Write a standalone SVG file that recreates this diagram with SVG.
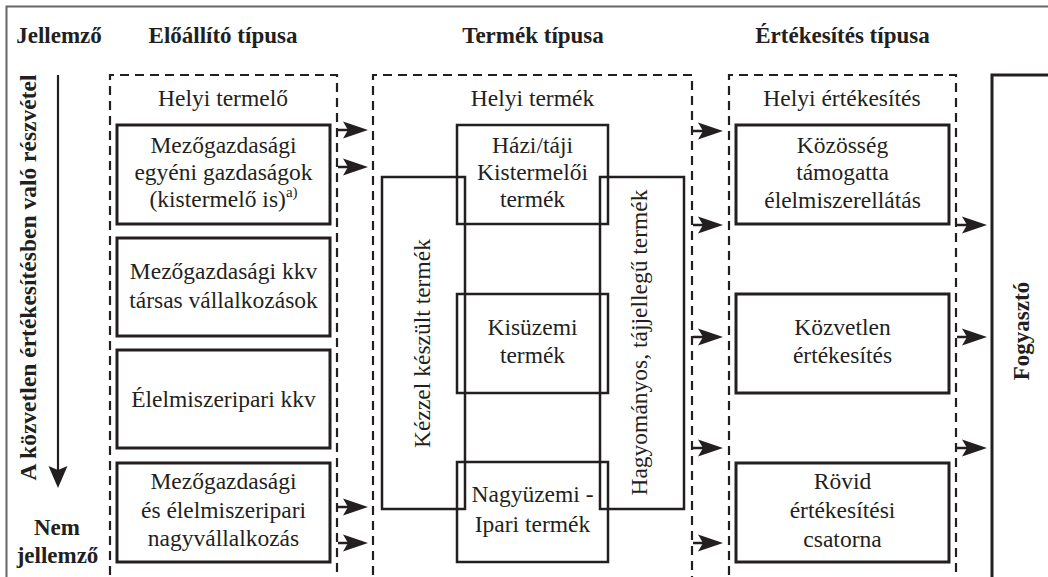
<svg xmlns="http://www.w3.org/2000/svg" width="1048" height="577" viewBox="0 0 1048 577">
<defs>
<style>
.t{font-family:"Liberation Serif","Times New Roman",serif;font-size:23.5px;fill:#231f20;text-anchor:middle}
.b{font-weight:bold;font-size:23px}
.box{fill:none;stroke:#231f20;stroke-width:3}
.mbox{fill:none;stroke:#231f20;stroke-width:2.5}
.dash{fill:none;stroke:#231f20;stroke-width:2.2;stroke-dasharray:9 6}
.arr{stroke:#231f20;stroke-width:2.5;fill:none;marker-end:url(#ah)}
</style>
<marker id="ah" markerUnits="userSpaceOnUse" markerWidth="25" markerHeight="18" viewBox="0 0 25 18" refX="19" refY="9" orient="auto">
<path d="M0,0.5 L25,9 L0,17.5 L5,9 Z" fill="#231f20"/>
</marker>
<marker id="ahv" markerUnits="userSpaceOnUse" markerWidth="22" markerHeight="20" viewBox="0 0 22 20" refX="16" refY="10" orient="auto">
<path d="M0,0.5 L22,10 L0,19.5 L4,10 Z" fill="#231f20"/>
</marker>
</defs>
<rect width="1048" height="577" fill="#fff"/>
<path d="M6.5,600 L6.5,6.5 L1060,6.5" fill="none" stroke="#666" stroke-width="2"/>

<g id="headers">
<text class="t b" x="59" y="43">Jellemző</text>
<text class="t b" x="223" y="43">Előállító típusa</text>
<text class="t b" x="533" y="43">Termék típusa</text>
<text class="t b" x="842.5" y="43">Értékesítés típusa</text>
</g>

<g id="axis">
<text class="t b" transform="translate(36,277.5) rotate(-90)" x="0" y="0" style="font-size:23.5px">A közvetlen értékesítésben való részvétel</text>
<line x1="58" y1="75" x2="58" y2="482" stroke="#231f20" stroke-width="2.2" marker-end="url(#ahv)"/>
<text class="t b" x="57" y="535">Nem</text>
<text class="t b" x="57.5" y="563">jellemző</text>
</g>

<g id="helyi-termelo">
<path class="dash" d="M110,590 L110,75 L337,75 L337,590"/>
<text class="t" x="223" y="106">Helyi termelő</text>
</g>
<g id="egyeni">
<rect class="box" x="117" y="125" width="213" height="99"/>
<text class="t" x="223.5" y="153">Mezőgazdasági</text>
<text class="t" x="223.5" y="180">egyéni gazdaságok</text>
<text class="t" x="223.5" y="207">(kistermelő is)<tspan font-size="15" dy="-10">a)</tspan></text>
</g>
<g id="kkv-tarsas">
<rect class="box" x="117" y="238" width="213" height="98"/>
<text class="t" x="223.5" y="279">Mezőgazdasági kkv</text>
<text class="t" x="223.5" y="308">társas vállalkozások</text>
</g>
<g id="elelmiszeripari-kkv">
<rect class="box" x="117" y="350" width="213" height="98"/>
<text class="t" x="223.5" y="407">Élelmiszeripari kkv</text>
</g>
<g id="nagyvallalkozas">
<rect class="box" x="117" y="463" width="213" height="99"/>
<text class="t" x="223.5" y="489">Mezőgazdasági</text>
<text class="t" x="223.5" y="518">és élelmiszeripari</text>
<text class="t" x="223.5" y="546">nagyvállalkozás</text>
</g>

<g id="helyi-termek">
<path class="dash" d="M373,590 L373,75 L692,75 L692,590"/>
<text class="t" x="532.5" y="106">Helyi termék</text>
</g>
<g id="kezzel">
<rect class="mbox" x="382" y="177" width="83" height="332"/>
<text class="t" transform="translate(430,343.5) rotate(-90)" x="0" y="0">Kézzel készült termék</text>
</g>
<g id="hagyomanyos">
<rect class="mbox" x="600" y="177" width="84" height="332"/>
<text class="t" transform="translate(647,342.5) rotate(-90)" x="0" y="0">Hagyományos, tájjellegű termék</text>
</g>
<g id="hazi">
<rect class="mbox" x="457" y="125" width="151" height="99"/>
<text class="t" x="532.5" y="153">Házi/táji</text>
<text class="t" x="532.5" y="180">Kistermelői</text>
<text class="t" x="532.5" y="207">termék</text>
</g>
<g id="kisuzemi">
<rect class="mbox" x="457" y="294" width="151" height="99"/>
<text class="t" x="532.5" y="335">Kisüzemi</text>
<text class="t" x="532.5" y="363">termék</text>
</g>
<g id="nagyuzemi">
<rect class="mbox" x="457" y="462" width="151" height="100"/>
<text class="t" x="532.5" y="502">Nagyüzemi -</text>
<text class="t" x="532.5" y="532">Ipari termék</text>
</g>

<g id="helyi-ertekesites">
<path class="dash" d="M729,590 L729,75 L956,75 L956,590"/>
<text class="t" x="842" y="106">Helyi értékesítés</text>
</g>
<g id="kozosseg">
<rect class="box" x="736" y="125" width="213" height="99"/>
<text class="t" x="842.5" y="153">Közösség</text>
<text class="t" x="842.5" y="180">támogatta</text>
<text class="t" x="842.5" y="208">élelmiszerellátás</text>
</g>
<g id="kozvetlen">
<rect class="box" x="736" y="294" width="213" height="99"/>
<text class="t" x="842.5" y="335">Közvetlen</text>
<text class="t" x="842.5" y="363">értékesítés</text>
</g>
<g id="rovid">
<rect class="box" x="736" y="463" width="213" height="99"/>
<text class="t" x="842.5" y="489">Rövid</text>
<text class="t" x="842.5" y="518">értékesítési</text>
<text class="t" x="842.5" y="547">csatorna</text>
</g>

<g id="fogyaszto">
<rect class="box" x="992" y="75" width="80" height="540"/>
<text class="t b" transform="translate(1029,331) rotate(-90)" x="0" y="0">Fogyasztó</text>
</g>

<g id="connectors">
<line class="arr" x1="338" y1="130" x2="362" y2="130"/>
<line class="arr" x1="338" y1="167" x2="362" y2="167"/>
<line class="arr" x1="338" y1="507" x2="362" y2="507"/>
<line class="arr" x1="338" y1="543" x2="362" y2="543"/>
<line class="arr" x1="693" y1="131" x2="717" y2="131"/>
<line class="arr" x1="693" y1="225" x2="717" y2="225"/>
<line class="arr" x1="693" y1="337" x2="717" y2="337"/>
<line class="arr" x1="693" y1="448" x2="717" y2="448"/>
<line class="arr" x1="693" y1="543" x2="717" y2="543"/>
<line class="arr" x1="957" y1="225" x2="981" y2="225"/>
<line class="arr" x1="957" y1="337" x2="981" y2="337"/>
<line class="arr" x1="957" y1="448" x2="981" y2="448"/>
</g>
</svg>
